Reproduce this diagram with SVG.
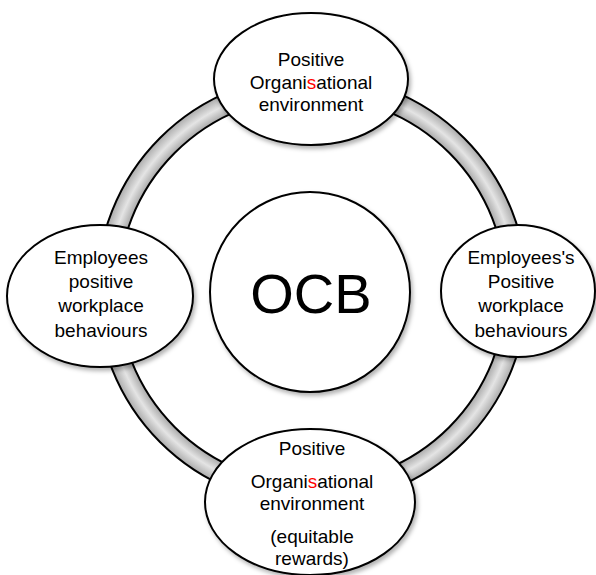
<svg xmlns="http://www.w3.org/2000/svg" width="596" height="575" viewBox="0 0 596 575">
  <style>
    .node { fill: #ffffff; stroke: #000000; stroke-width: 2; filter: url(#shadow); }
    .lbl { font-family: "Liberation Sans", Arial, sans-serif; font-size: 19px; fill: #000000; text-anchor: middle; }
    .big { font-family: "Liberation Sans", Arial, sans-serif; font-size: 56px; fill: #000000; text-anchor: middle; }
    .red { fill: #ff0000; }
  </style>
  <defs>
    <filter id="shadow" x="-20%" y="-20%" width="140%" height="140%">
      <feDropShadow dx="2" dy="3" stdDeviation="2" flood-color="#000000" flood-opacity="0.3"/>
    </filter>
    <radialGradient id="tube" gradientUnits="userSpaceOnUse" cx="312" cy="290" r="216">
      <stop offset="0.895" stop-color="#a6a6a6"/>
      <stop offset="0.945" stop-color="#e4e4e4"/>
      <stop offset="1" stop-color="#a6a6a6"/>
    </radialGradient>
  </defs>

  <g id="connectors">
    <circle cx="312" cy="290" r="204.5" fill="none" stroke="#000000" stroke-width="23"/>
    <circle cx="312" cy="290" r="204.5" fill="none" stroke="url(#tube)" stroke-width="19"/>
  </g>

  <g id="node-top">
    <ellipse class="node" cx="311" cy="79" rx="97" ry="66"/>
    <text class="lbl" x="311" y="66">Positive</text>
    <text class="lbl" x="311" y="89">Organi<tspan class="red">s</tspan>ational</text>
    <text class="lbl" x="311" y="111">environment</text>
  </g>

  <g id="node-left">
    <ellipse class="node" cx="100" cy="296" rx="93" ry="71"/>
    <text class="lbl" x="101" y="264">Employees</text>
    <text class="lbl" x="101" y="288">positive</text>
    <text class="lbl" x="101" y="312">workplace</text>
    <text class="lbl" x="101" y="337">behaviours</text>
  </g>

  <g id="node-right">
    <ellipse class="node" cx="518" cy="291" rx="77" ry="66"/>
    <text class="lbl" x="521" y="264">Employees's</text>
    <text class="lbl" x="521" y="288">Positive</text>
    <text class="lbl" x="521" y="312">workplace</text>
    <text class="lbl" x="521" y="337">behaviours</text>
  </g>

  <g id="node-bottom">
    <ellipse class="node" cx="310" cy="502" rx="105" ry="73"/>
    <text class="lbl" x="312" y="455">Positive</text>
    <text class="lbl" x="312" y="488">Organi<tspan class="red">s</tspan>ational</text>
    <text class="lbl" x="312" y="510">environment</text>
    <text class="lbl" x="312" y="543">(equitable</text>
    <text class="lbl" x="312" y="565">rewards)</text>
  </g>

  <g id="node-center">
    <circle class="node" cx="310" cy="292" r="100"/>
    <text class="big" x="311" y="313">OCB</text>
  </g>
</svg>
